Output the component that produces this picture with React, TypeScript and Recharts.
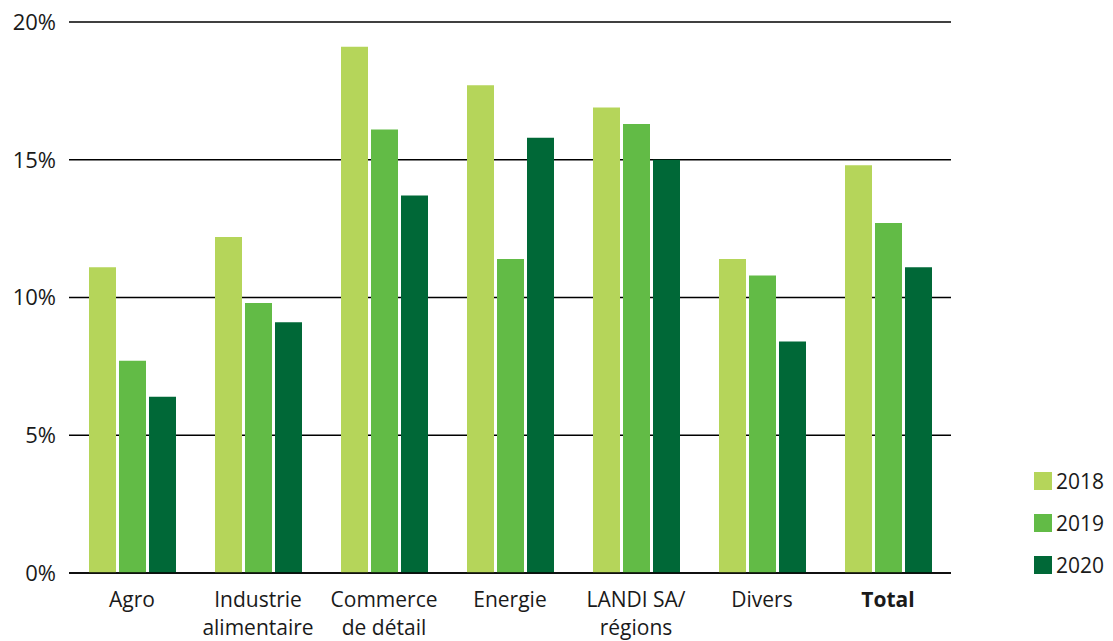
import React from 'react';
import { BarChart, Bar, XAxis, YAxis, CartesianGrid } from 'recharts';

const categories = ['Agro', 'Industrie\nalimentaire', 'Commerce\nde détail', 'Energie', 'LANDI SA/\nrégions', 'Divers', 'Total'];
const values2018 = [11.1, 12.2, 19.1, 17.7, 16.9, 11.4, 14.8];
const values2019 = [7.7, 9.8, 16.1, 11.4, 16.3, 10.8, 12.7];
const values2020 = [6.4, 9.1, 13.7, 15.8, 15.0, 8.4, 11.1];
const yTicks = [0, 5, 10, 15, 20];

const series = [
  { key: 'y2018', name: '2018', color: '#b5d55a' },
  { key: 'y2019', name: '2019', color: '#62bb46' },
  { key: 'y2020', name: '2020', color: '#006837' },
];

const data = categories.map((name, i) => ({
  name,
  y2018: values2018[i],
  y2019: values2019[i],
  y2020: values2020[i],
}));

const FONT = '"Open Sans", sans-serif';

function CategoryTick(props: any) {
  const { x, y, payload } = props;
  const lines = String(payload.value).split('\n');
  const bold = payload.value === 'Total';
  return (
    <text
      x={x}
      y={y}
      textAnchor="middle"
      fill="#1a1a1a"
      fontSize={21}
      fontFamily={FONT}
      fontWeight={bold ? 700 : 400}
    >
      {lines.map((line, i) => (
        <tspan key={i} x={x} dy={i === 0 ? 26 : 28}>
          {line}
        </tspan>
      ))}
    </text>
  );
}

export default function App() {
  return (
    <div style={{ position: 'absolute', left: 0, top: 0, width: 1113, height: 641, background: '#fff' }}>
      <BarChart
        width={1113}
        height={641}
        data={data}
        margin={{ top: 22, right: 162, bottom: 0, left: 0 }}
        barSize={27}
        barGap={3}
      >
        <CartesianGrid vertical={false} stroke="#000" strokeWidth={1.3} />
        <XAxis
          dataKey="name"
          interval={0}
          axisLine={{ stroke: '#000', strokeWidth: 1.5 }}
          tickLine={false}
          tick={<CategoryTick />}
          height={68}
        />
        <YAxis
          width={69}
          domain={[0, 20]}
          ticks={yTicks}
          axisLine={false}
          tickLine={false}
          tickMargin={7}
          tickFormatter={(v: number) => `${v}%`}
          tick={{ fill: '#1a1a1a', fontSize: 22, fontFamily: FONT }}
        />
        {series.map((s) => (
          <Bar key={s.key} dataKey={s.key} name={s.name} fill={s.color} isAnimationActive={false} />
        ))}
      </BarChart>
      <div style={{ position: 'absolute', left: 1034, top: 469, fontFamily: FONT, fontSize: 21, color: '#1a1a1a' }}>
        {series.map((s) => (
          <div key={s.key} style={{ display: 'flex', alignItems: 'center', height: 24, marginBottom: 18 }}>
            <span style={{ display: 'inline-block', width: 18, height: 18, background: s.color, marginRight: 4 }} />
            <span>{s.name}</span>
          </div>
        ))}
      </div>
    </div>
  );
}
